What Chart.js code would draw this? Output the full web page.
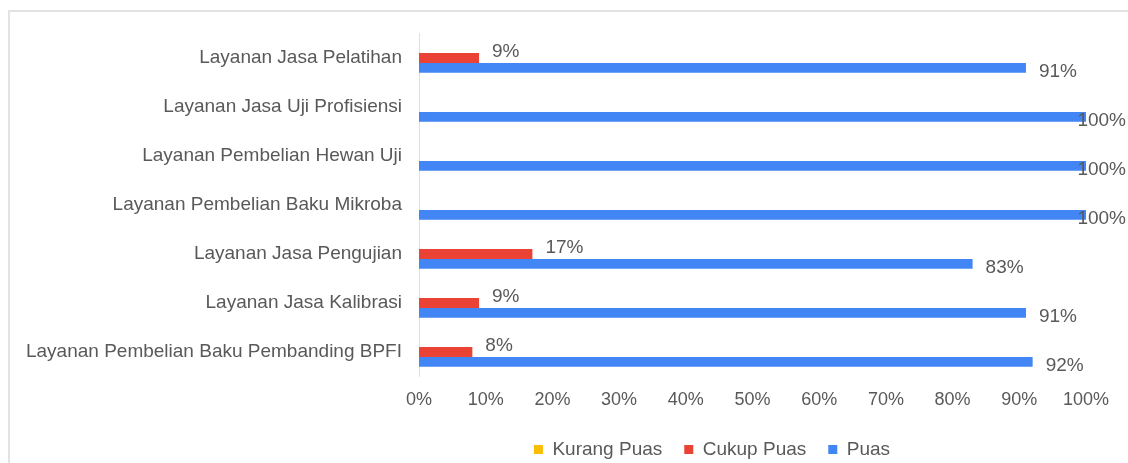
<!DOCTYPE html>
<html>
<head>
<meta charset="utf-8">
<script src="https://cdn.jsdelivr.net/npm/chart.js@4/dist/chart.umd.min.js"></script>
<style>
  html, body { margin: 0; padding: 0; background: #ffffff; }
  #wrap { position: relative; width: 1128px; height: 463px; overflow: hidden; }
  #frame { position: absolute; left: 8px; top: 10px; width: 1140px; height: 480px;
           border-left: 2px solid #e3e3e3; border-top: 2px solid #e3e3e3; box-sizing: border-box; }
  #c { position: absolute; left: 0; top: 0; }
</style>
</head>
<body>
<div id="wrap">
  <div id="frame"></div>
  <canvas id="c" width="1128" height="469"></canvas>
</div>
<script>
const categories = [
  "Layanan Jasa Pelatihan",
  "Layanan Jasa Uji Profisiensi",
  "Layanan Pembelian Hewan Uji",
  "Layanan Pembelian Baku Mikroba",
  "Layanan Jasa Pengujian",
  "Layanan Jasa Kalibrasi",
  "Layanan Pembelian Baku Pembanding BPFI"
];
const seriesNames = ["Kurang Puas", "Cukup Puas", "Puas"];
const kurangPuas = [0, 0, 0, 0, 0, 0, 0];
const cukupPuas  = [9, 0, 0, 0, 17, 9, 8];
const puas       = [91, 100, 100, 100, 83, 91, 92];
const xTicks = [0, 10, 20, 30, 40, 50, 60, 70, 80, 90, 100];

const colors = ["#FBBC04", "#EA4335", "#4285F4"];
const FONT = "'Liberation Sans', Arial, sans-serif";
const TEXT = "#595959";

const labelPlugin = {
  id: "barLabels",
  afterDatasetsDraw(chart) {
    const ctx = chart.ctx;
    ctx.save();
    ctx.font = "19px " + FONT;
    ctx.fillStyle = TEXT;
    ctx.textBaseline = "middle";
    ctx.textAlign = "left";
    const offsets = {1: -6, 2: 4};
    [1, 2].forEach(di => {
      const meta = chart.getDatasetMeta(di);
      const data = chart.data.datasets[di].data;
      meta.data.forEach((el, i) => {
        const v = data[i];
        if (!v) return;
        const txt = v + "%";
        const w = ctx.measureText(txt).width;
        let x = el.x + 13;
        if (x + w > chart.width - 2) x = chart.width - 2 - w;
        ctx.fillText(txt, x, el.y + offsets[di]);
      });
    });
    ctx.restore();
  }
};

const legendShift = {
  id: "legendShift",
  afterLayout(chart) {
    const lg = chart.legend;
    const dx = 169;
    lg.left += dx;
    lg.right += dx;
  }
};

new Chart(document.getElementById("c"), {
  type: "bar",
  data: {
    labels: categories,
    datasets: [
      { label: seriesNames[0], data: kurangPuas, backgroundColor: colors[0] },
      { label: seriesNames[1], data: cukupPuas, backgroundColor: colors[1] },
      { label: seriesNames[2], data: puas, backgroundColor: colors[2] }
    ]
  },
  options: {
    indexAxis: "y",
    responsive: false,
    animation: false,
    datasets: { bar: { categoryPercentage: 0.6, barPercentage: 1.0 } },
    layout: { padding: { top: 33.5, right: 42, left: 0, bottom: 0 } },
    scales: {
      x: {
        min: 0, max: 100,
        afterBuildTicks(scale) { scale.ticks = xTicks.map(v => ({ value: v })); },
        grid: { display: false, drawTicks: false },
        border: { display: false },
        ticks: {
          color: TEXT, font: { family: FONT, size: 18 }, padding: 13,
          maxRotation: 0, autoSkip: false,
          callback: v => v + "%"
        },
        afterFit(scale) { scale.height = 41.5; }
      },
      y: {
        grid: { display: false, drawTicks: false },
        border: { display: true, color: "#e0e0e0", width: 1 },
        ticks: { color: TEXT, font: { family: FONT, size: 19 }, padding: 17, autoSkip: false },
        afterFit(scale) { scale.width = 419; }
      }
    },
    plugins: {
      legend: {
        position: "bottom",
        labels: {
          color: TEXT, font: { family: FONT, size: 19 },
          boxWidth: 9, boxHeight: 9, padding: 22
        }
      },
      tooltip: { enabled: false }
    }
  },
  plugins: [labelPlugin, legendShift]
});
</script>
</body>
</html>
